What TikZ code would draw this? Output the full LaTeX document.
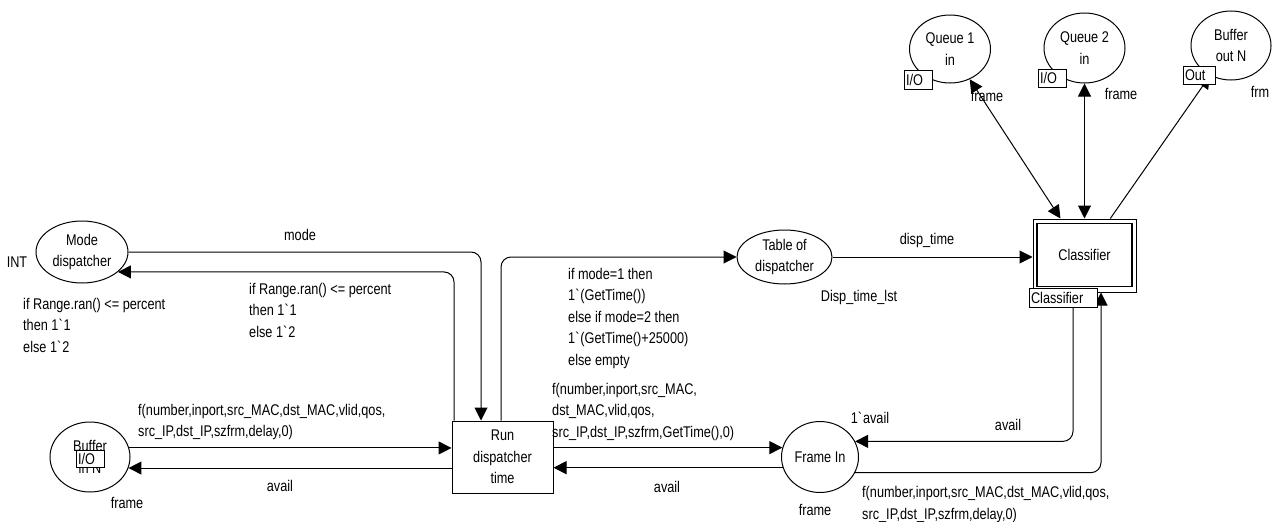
\documentclass[tikz,border=0pt]{standalone}
\usepackage{fontspec}
\setmainfont{Liberation Sans}[FakeStretch=0.82]
\usetikzlibrary{shapes.geometric,arrows.meta,calc}
\newcommand\gravechar{\textasciigrave}

\begin{document}
\begin{tikzpicture}[x=1pt,y=-1pt,
  font=\fontsize{15.5}{21.5}\selectfont,
  place/.style={ellipse,draw,line width=1pt,inner sep=0pt,align=center},
  trans/.style={rectangle,draw,line width=1pt,inner sep=0pt,align=center},
  tag/.style={rectangle,draw,fill=white,line width=0.8pt,inner ysep=0pt,inner xsep=2pt,align=left},
  lbl/.style={inner sep=0pt,align=left,anchor=base west},
  txt/.style={inner sep=0pt},
  tip/.tip={Triangle[length=13pt,width=13pt]},
  flow/.style={line width=1pt,-tip},
  biflow/.style={line width=1pt,tip-tip},
  elbow/.style={rounded corners=10pt}]

\useasboundingbox (0,0) rectangle (1277,522);

% places
\node[place,minimum width=92pt,minimum height=62pt] (modeD) at (82,252) {Mode\\dispatcher};
\node[place,minimum width=80pt,minimum height=70pt] (bufIn) at (90,457) {Buffer\\in N};
\node[place,minimum width=95pt,minimum height=54pt] (table) at (784.5,257) {Table of\\dispatcher};
\node[place,minimum width=77pt,minimum height=71pt] (frameIn) at (820,457) {Frame In};
\node[place,minimum width=81pt,minimum height=68pt] (q1) at (950,49) {Queue 1\\in};
\node[place,minimum width=81pt,minimum height=70pt] (q2) at (1084.5,48) {Queue 2\\in};
\node[place,minimum width=80pt,minimum height=69pt] (bufOut) at (1231,45.5) {Buffer\\out N};

% transitions
\node[trans,minimum width=101pt,minimum height=72pt] (run) at (502.5,457) {Run\\dispatcher\\time};
\node[trans,minimum width=103pt,minimum height=73pt] (cls) at (1084.5,255.5) {};
\node[trans,line width=1.8pt,minimum width=95pt,minimum height=63pt] (clsIn) at (1084.5,255) {Classifier};

% arcs
\draw[flow,elbow] (modeD.east) -| ([xshift=-21.5pt]run.north);
\draw[flow,elbow] ([xshift=-48.5pt]run.north) |- (modeD.-29.7);
\draw[flow,elbow] ([xshift=-1.5pt]run.north) |- (table.west);
\draw[flow] (table.east) -- (table.east -| cls.west);
\draw[flow] (bufIn.13.1) -- (bufIn.13.1 -| run.west);
\draw[flow] (run.west |- bufIn.-16.2) -- (bufIn.-16.2);
\draw[flow] (run.east |- frameIn.166.4) -- (frameIn.166.4);
\draw[flow] (frameIn.196.7) -- (frameIn.196.7 -| run.east);
\draw[flow,elbow] (frameIn.-24.9) -| ([xshift=16.5pt]cls.south);
\draw[biflow] (q1) -- (cls);
\draw[biflow] (q2) -- (cls);
\draw[flow] (cls) -- (bufOut);

% port and substitution tags
\node[tag,text width=24pt,minimum height=17pt] (tagBufIn) at (90,458.5) {I/O};
\node[tag,text width=24pt,minimum height=19pt] (tagQ1) at (918,79.5) {I/O};
\node[tag,text width=24pt,minimum height=18pt] (tagQ2) at (1052,78) {I/O};
\node[tag,text width=28pt,minimum height=18pt] (tagOut) at (1199,75) {Out};
\node[tag,text width=64pt,minimum height=19pt] (clsTag) at (1063,297.5) {Classifier};
\draw[flow,elbow] ([xshift=10pt]clsTag.south) |- (frameIn.24.9);

% colour sets and initial markings
\node[txt] (tINT) at (17,262) {INT};
\node[txt] (tBufInC) at (127,503) {frame};
\node[txt] (tTableC) at (859,297) {Disp\_time\_lst};
\node[txt] (tFrameC) at (815,510) {frame};
\node[txt] (tFrameM) at (870,418) {1\gravechar avail};
\node[txt] (tQ1C) at (987,96) {frame};
\node[txt] (tQ2C) at (1121,94) {frame};
\node[txt] (tOutC) at (1260,92) {frm};

% arc inscriptions (anchored at the baseline of the last line)
\node[txt] (iMode) at (300,235) {mode};
\node[txt] (iAvail1) at (280,486) {avail};
\node[txt] (iAvail2) at (667,487) {avail};
\node[txt] (iAvail3) at (1008,425) {avail};
\node[txt] (iDisp) at (927,240) {disp\_time};
\node[lbl] (iRan1) at (23,352) {if Range.ran() <= percent\\then 1\gravechar 1\\else 1\gravechar 2};
\node[lbl] (iRan2) at (249,337) {if Range.ran() <= percent\\then 1\gravechar 1\\else 1\gravechar 2};
\node[lbl] (iTime) at (568,365) {if mode=1 then\\1\gravechar(GetTime())\\else if mode=2 then\\1\gravechar(GetTime()+25000)\\else empty};
\node[lbl] (iIn) at (138,436.5) {f(number,inport,src\_MAC,dst\_MAC,vlid,qos,\\src\_IP,dst\_IP,szfrm,delay,0)};
\node[lbl] (iOut) at (552,437) {f(number,inport,src\_MAC,\\dst\_MAC,vlid,qos,\\src\_IP,dst\_IP,szfrm,GetTime(),0)};
\node[lbl] (iBack) at (862,519) {f(number,inport,src\_MAC,dst\_MAC,vlid,qos,\\src\_IP,dst\_IP,szfrm,delay,0)};
\end{tikzpicture}
\end{document}
